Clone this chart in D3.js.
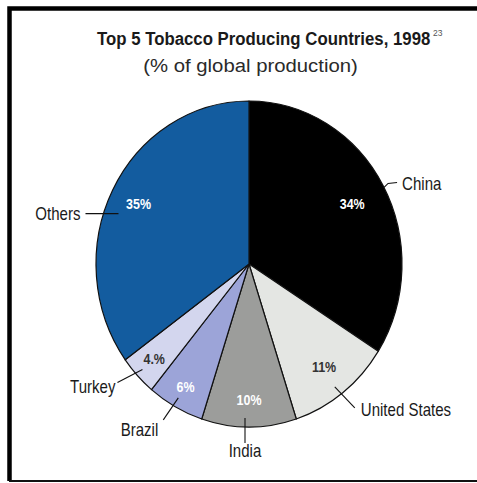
<!DOCTYPE html>
<html>
<head>
<meta charset="utf-8">
<script src="https://cdn.jsdelivr.net/npm/d3@7"></script>
<style>
  body { margin: 0; background: #fff; }
  svg { display: block; }
</style>
</head>
<body>
<svg id="chart" width="477" height="483"></svg>
<script>
// data, clockwise from 12 o'clock
var countries = ["China", "United States", "India", "Brazil", "Turkey", "Others"];
var shares = [34, 11, 10, 6, 4, 35];
var shareLabels = ["34%", "11%", "10%", "6%", "4.%", "35%"];

var colors = ["#000000", "#e4e6e3", "#9c9d9b", "#9ca4d8", "#d3d6ee", "#135c9f"];
var pctColors = ["#fff", "#333", "#fff", "#fff", "#333", "#fff"];

var svg = d3.select("#chart"),
    cx = 249, cy = 264,
    rx = 153, ry = 163,
    squeeze = 0.86; // condensed look for the labels

// frame
svg.append("path").attr("d", "M9.5,481 V8.5 H477").attr("fill", "none")
  .attr("stroke", "#000").attr("stroke-width", 4.5);
svg.append("line").attr("x1", 9).attr("x2", 477).attr("y1", 481).attr("y2", 481)
  .attr("stroke", "#111").attr("stroke-width", 2);

// title, squeezed to its width in the original
svg.append("text")
    .attr("transform", "translate(97,45) scale(0.884,1)")
    .attr("font-family", "Liberation Sans, Arial, sans-serif")
    .attr("font-weight", "bold").attr("font-size", 19)
    .attr("fill", "#1a1a1a")
    .text("Top 5 Tobacco Producing Countries, 1998");
svg.append("text")
    .attr("x", 433).attr("y", 36)
    .attr("font-family", "Liberation Sans, Arial, sans-serif")
    .attr("font-size", 8.5).attr("fill", "#555")
    .text("23");

svg.append("text")
    .attr("transform", "translate(250.5,72) scale(1.07,1)")
    .attr("text-anchor", "middle")
    .attr("font-family", "Liberation Sans, Arial, sans-serif")
    .attr("font-size", 19)
    .attr("fill", "#2a2a2a")
    .text("(% of global production)");

var pie = d3.pie().sort(null).value(function(d) { return d; });
var arcs = pie(shares);
var arc = d3.arc().innerRadius(0).outerRadius(ry);

var g = svg.append("g").attr("transform", "translate(" + cx + "," + cy + ") scale(" + (rx / ry) + ",1)");
g.selectAll("path")
  .data(arcs)
  .enter().append("path")
    .attr("d", arc)
    .attr("fill", function(d, i) { return colors[i]; })
    .attr("stroke", "#111")
    .attr("stroke-width", 1.2)
    .attr("stroke-linejoin", "round")
    .attr("vector-effect", "non-scaling-stroke");

function at(angle, k) {
  return [cx + rx * k * Math.sin(angle), cy - ry * k * Math.cos(angle)];
}
function mid(d) { return (d.startAngle + d.endAngle) / 2; }

function label(x, y, txt, anchor, size, weight, fill) {
  return svg.append("text")
    .attr("transform", "translate(" + x + "," + y + ") scale(" + squeeze + ",1)")
    .attr("dy", "0.36em")
    .attr("text-anchor", anchor)
    .attr("font-family", "Liberation Sans, Arial, sans-serif")
    .attr("font-weight", weight).attr("font-size", size)
    .attr("fill", fill)
    .text(txt);
}

// percentage labels
var pctRadius = [0.77, 0.8, 0.83, 0.86, 0.85, 0.81];
arcs.forEach(function(d, i) {
  var p = at(mid(d), pctRadius[i]);
  label(p[0], p[1], shareLabels[i], "middle", 14.5, "bold", pctColors[i]);
});

// leaders: offsets from the point on the rim, then label offset and anchor
var leaderAt = [null, null, null, null, null, 0.8 * Math.PI * 2];
var leaders = [
  { pts: [[1, 2], [5, -2], [14, -3]], txt: [19, -2], anchor: "start" },
  { pts: [[-8, -6], [12, 15]], txt: [18, 17], anchor: "start" },
  { pts: [[-4, -9], [-4, 16]], txt: [-4, 24], anchor: "middle" },
  { pts: [[3, -9], [-12, 13]], txt: [-17, 23], anchor: "end" },
  { pts: [[5, -6], [-20, 7]], txt: [-22, 11], anchor: "end" },
  { pts: [[15, 0], [-18, 0]], txt: [-23, 0], anchor: "end" }
];

var line = d3.line();
arcs.forEach(function(d, i) {
  var a = leaderAt[i] == null ? mid(d) : leaderAt[i],
      p = at(a, 1),
      L = leaders[i];
  svg.append("path")
    .attr("d", line(L.pts.map(function(o) { return [p[0] + o[0], p[1] + o[1]]; })))
    .attr("fill", "none").attr("stroke", "#111").attr("stroke-width", 1.1);
  label(p[0] + L.txt[0], p[1] + L.txt[1], countries[i], L.anchor, 17.5, "normal", "#1a1a1a");
});
</script>
</body>
</html>
